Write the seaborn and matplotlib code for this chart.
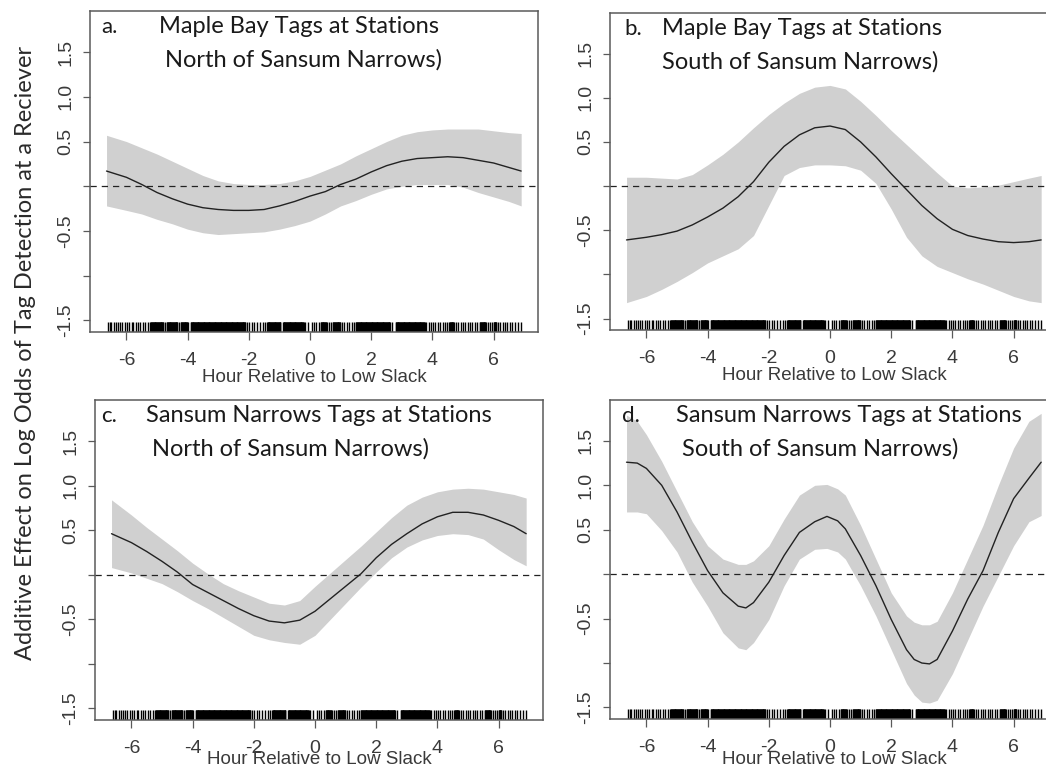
import numpy as np
import matplotlib
matplotlib.use("Agg")
import matplotlib.pyplot as plt
import seaborn as sns

# Hours relative to low slack at which the smooths are evaluated (panels a-c)
hours = [-6.65, -6.0, -5.5, -5.0, -4.5, -4.0, -3.5, -3.0, -2.5, -2.0, -1.5, -1.0,
         -0.5, 0.0, 0.5, 1.0, 1.5, 2.0, 2.5, 3.0, 3.5, 4.0, 4.5, 5.0, 5.5, 6.0,
         6.5, 6.9]

# a. Maple Bay tags, stations north of Sansum Narrows
fit_a = [0.17, 0.10, 0.02, -0.07, -0.14, -0.20, -0.24, -0.26, -0.27, -0.27, -0.26, -0.22,
         -0.17, -0.11, -0.06, 0.02, 0.08, 0.16, 0.23, 0.28, 0.31, 0.32, 0.33, 0.32, 0.29, 0.26,
         0.21, 0.17]
upper_a = [0.57, 0.50, 0.43, 0.36, 0.28, 0.20, 0.12, 0.06, 0.03, 0.02, 0.02, 0.03,
           0.06, 0.11, 0.18, 0.25, 0.34, 0.42, 0.50, 0.57, 0.61, 0.63, 0.64, 0.64, 0.64, 0.62,
           0.60, 0.59]
lower_a = [-0.22, -0.27, -0.31, -0.37, -0.42, -0.48, -0.52, -0.54, -0.53, -0.52, -0.51, -0.48,
           -0.44, -0.39, -0.31, -0.22, -0.16, -0.09, -0.03, 0.00, 0.02, 0.02, 0.02, -0.01, -0.07, -0.12,
           -0.17, -0.22]

# b. Maple Bay tags, stations south of Sansum Narrows
fit_b = [-0.61, -0.58, -0.55, -0.51, -0.44, -0.35, -0.25, -0.12, 0.05, 0.27, 0.45, 0.58,
         0.66, 0.68, 0.64, 0.50, 0.33, 0.14, -0.04, -0.22, -0.37, -0.49, -0.56, -0.60, -0.63, -0.64,
         -0.63, -0.61]
upper_b = [0.10, 0.10, 0.09, 0.08, 0.13, 0.24, 0.36, 0.50, 0.66, 0.81, 0.94, 1.05,
           1.12, 1.14, 1.10, 0.96, 0.80, 0.63, 0.47, 0.31, 0.15, 0.00, -0.02, -0.01, 0.01, 0.05,
           0.09, 0.12]
lower_b = [-1.32, -1.25, -1.17, -1.08, -0.98, -0.87, -0.79, -0.71, -0.56, -0.22, 0.12, 0.21,
           0.24, 0.24, 0.23, 0.18, 0.03, -0.26, -0.58, -0.79, -0.91, -0.98, -1.05, -1.11, -1.18, -1.25,
           -1.30, -1.32]

# c. Sansum Narrows tags, stations north of Sansum Narrows
fit_c = [0.46, 0.36, 0.26, 0.15, 0.03, -0.11, -0.20, -0.29, -0.38, -0.46, -0.52, -0.54,
         -0.51, -0.41, -0.27, -0.13, 0.01, 0.19, 0.34, 0.46, 0.57, 0.65, 0.70, 0.70, 0.67, 0.61,
         0.54, 0.46]
upper_c = [0.84, 0.67, 0.53, 0.40, 0.27, 0.13, 0.01, -0.10, -0.18, -0.25, -0.32, -0.34,
           -0.29, -0.13, 0.02, 0.17, 0.32, 0.48, 0.64, 0.78, 0.87, 0.93, 0.96, 0.97, 0.96, 0.93,
           0.90, 0.86]
lower_c = [0.08, 0.02, -0.04, -0.10, -0.19, -0.29, -0.38, -0.48, -0.58, -0.68, -0.73, -0.76,
           -0.78, -0.68, -0.50, -0.32, -0.14, 0.03, 0.19, 0.31, 0.39, 0.44, 0.46, 0.45, 0.40, 0.28,
           0.17, 0.10]

# d. Sansum Narrows tags, stations south of Sansum Narrows (finer steps near the turns)
hours_d = [-6.65, -6.3, -6.0, -5.5, -5.0, -4.5, -4.0, -3.5, -3.0, -2.75, -2.5, -2.0,
           -1.5, -1.0, -0.5, -0.1, 0.25, 0.5, 1.0, 1.5, 2.0, 2.5, 2.75, 3.0, 3.25, 3.5,
           4.0, 4.5, 5.0, 5.5, 6.0, 6.5, 6.9]
fit_d = [1.26, 1.25, 1.19, 1.00, 0.70, 0.36, 0.04, -0.21, -0.36, -0.38, -0.32, -0.09,
         0.21, 0.47, 0.59, 0.65, 0.60, 0.51, 0.21, -0.13, -0.51, -0.85, -0.96, -1.00, -1.01, -0.96,
         -0.64, -0.28, 0.04, 0.47, 0.85, 1.08, 1.26]
upper_d = [1.79, 1.72, 1.57, 1.27, 0.93, 0.59, 0.32, 0.17, 0.11, 0.11, 0.15, 0.32,
           0.62, 0.89, 1.00, 1.01, 0.96, 0.89, 0.55, 0.17, -0.21, -0.47, -0.54, -0.57, -0.57, -0.53,
           -0.21, 0.17, 0.55, 1.00, 1.42, 1.72, 1.81]
lower_d = [0.70, 0.70, 0.68, 0.49, 0.25, -0.09, -0.36, -0.66, -0.83, -0.85, -0.77, -0.51,
           -0.13, 0.17, 0.28, 0.29, 0.25, 0.17, -0.13, -0.47, -0.85, -1.23, -1.36, -1.44, -1.45, -1.42,
           -1.12, -0.74, -0.36, -0.02, 0.32, 0.59, 0.66]

# Detection times (hours) shown as the rug: busy stretches and isolated detections
rug_busy = [(-5.20, -4.78), (-4.68, -4.32), (-4.22, -3.98), (-3.90, -2.10), (-1.40, -0.95),
            (-0.88, -0.20), (0.35, 0.55), (0.75, 1.00), (1.50, 2.62), (2.80, 3.75),
            (4.55, 4.70), (5.55, 5.75), (6.00, 6.10)]
rug_single = [-6.61, -6.55, -6.49, -6.41, -6.34, -6.28, -6.20, -6.13, -6.06, -5.99, -5.92,
              -5.83, -5.77, -5.70, -5.62, -5.55, -5.47, -5.38, -5.30, -5.24, -4.73, -4.27,
              -2.05, -1.98, -1.90, -1.83, -1.72, -1.65, -1.55, -1.48,
              -0.15, -0.05, 0.05, 0.12, 0.20, 0.28, 0.62, 0.68, 1.05, 1.12, 1.20, 1.28, 1.36,
              1.43, 2.68, 3.80, 3.88, 3.95, 4.03, 4.10, 4.18, 4.25, 4.33, 4.40, 4.48, 4.78,
              4.85, 4.93, 5.00, 5.07, 5.15, 5.22, 5.30, 5.38, 5.45, 5.80, 5.88, 5.95, 6.15,
              6.22, 6.30, 6.38, 6.45, 6.53, 6.60, 6.70, 6.80, 6.90]

panel_letters = ["a.", "b.", "c.", "d."]
title_top = ["Maple Bay Tags at Stations", "Maple Bay Tags at Stations",
             "Sansum Narrows Tags at Stations", "Sansum Narrows Tags at Stations"]
title_bottom = ["North of Sansum Narrows)", "South of Sansum Narrows)",
                "North of Sansum Narrows)", "South of Sansum Narrows)"]
x_ticks = [-6, -4, -2, 0, 2, 4, 6]
y_ticks = [-1.5, -1.0, -0.5, 0.0, 0.5, 1.0, 1.5]
y_tick_labels = ["-1.5", "", "-0.5", "", "0.5", "1.0", "1.5"]
x_label = "Hour Relative to Low Slack"
y_label = "Additive Effect on Log Odds of Tag Detection at a Reciever"

sns.set_theme(style="white")
plt.rcParams["font.family"] = ["Liberation Sans", "DejaVu Sans"]

fig = plt.figure(figsize=(10.46, 7.71), dpi=100)
W, H = 1046.0, 771.0
# panel boxes in pixels: left, top, width, height
boxes = [(90, 11, 448, 321), (610, 13, 448, 317), (95, 400, 448, 320), (610, 400, 448, 319)]
title_x = [(0.025, 0.154, 0.167), (0.031, 0.115, 0.115), (0.014, 0.114, 0.127), (0.027, 0.148, 0.160)]
xlabel_gap = [45.0, 45.0, 40.0, 40.0]

xs = [hours, hours, hours, hours_d]
fits = [fit_a, fit_b, fit_c, fit_d]
uppers = [upper_a, upper_b, upper_c, upper_d]
lowers = [lower_a, lower_b, lower_c, lower_d]

rug_values = list(rug_single)
for lo, hi in rug_busy:
    rug_values.extend(np.arange(lo, hi, 0.015).tolist())

spine_col = "#5a5a5a"
text_col = "#3a3a3a"

for i in range(4):
    l, t, w, h = boxes[i]
    ax = fig.add_axes([l / W, (H - t - h) / H, w / W, h / H])
    ax.fill_between(xs[i], lowers[i], uppers[i], color="#d0d0d0", linewidth=0)
    sns.lineplot(x=xs[i], y=fits[i], ax=ax, color="#222222", linewidth=1.0)
    ax.axhline(0, color="#222222", linewidth=0.9, linestyle=(0, (5, 4)))
    sns.rugplot(x=rug_values, ax=ax, height=0.032, color="black", linewidth=1.0)
    ax.set_xlim(-7.19, 7.45)
    ax.set_ylim(-1.63, 1.96)
    ax.set_xticks(x_ticks)
    ax.set_xticklabels([str(v) for v in x_ticks])
    ax.set_yticks(y_ticks)
    ax.set_yticklabels(y_tick_labels, rotation=90, va="center")
    ax.tick_params(axis="both", direction="out", length=5.4, width=0.9, color=spine_col,
                   labelsize=14, labelcolor=text_col, bottom=True, left=True)
    ax.tick_params(axis="x", pad=9)
    ax.tick_params(axis="y", pad=6)
    for s in ax.spines.values():
        s.set_visible(True)
        s.set_color(spine_col)
        s.set_linewidth(1.1)
    ax.set_xlabel(x_label, fontsize=13.5, color=text_col)
    ax.xaxis.label.set_va("center")
    ax.xaxis.set_label_coords(0.5, -xlabel_gap[i] / h)
    ax.set_ylabel("")
    lx, tx1, tx2 = title_x[i]
    ax.text(lx, 0.931, panel_letters[i], transform=ax.transAxes, fontsize=16,
            family="Lato", color="#1a1a1a", va="baseline", ha="left")
    ax.text(tx1, 0.931, title_top[i], transform=ax.transAxes, fontsize=17,
            family="Lato", color="#1a1a1a", va="baseline", ha="left")
    ax.text(tx2, 0.826, title_bottom[i], transform=ax.transAxes, fontsize=17,
            family="Lato", color="#1a1a1a", va="baseline", ha="left")

fig.text(26 / W, 1 - 353 / H, y_label, rotation=90, ha="center", va="center",
         fontsize=17, family="Lato", color="#2a2a2a")

fig.savefig("out.png", dpi=100)
